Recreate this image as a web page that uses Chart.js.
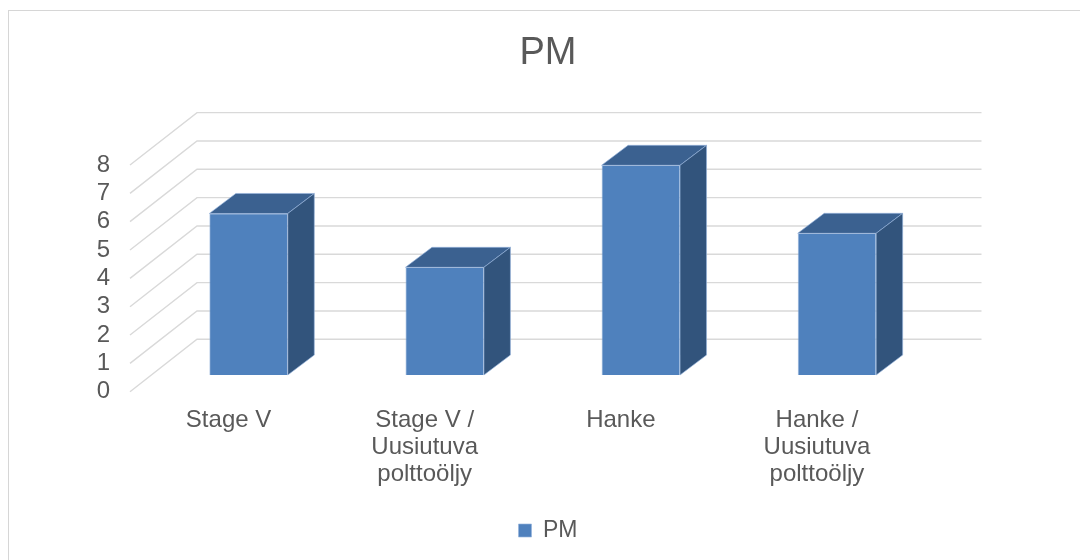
<!DOCTYPE html>
<html>
<head>
<meta charset="utf-8">
<script src="https://cdn.jsdelivr.net/npm/chart.js@4.4.1/dist/chart.umd.min.js"></script>
<style>
  html, body { margin: 0; padding: 0; background: #ffffff; }
  #wrap { position: relative; width: 1080px; height: 560px; overflow: hidden; }
  #wrap canvas { position: absolute; left: 0; top: 0; }
  #frame { position: absolute; left: 8px; top: 10px; width: 1200px; height: 700px;
           border-top: 1px solid #d6d6d6; border-left: 1px solid #d6d6d6; pointer-events: none; }
</style>
</head>
<body>
<div id="wrap">
  <canvas id="chart" width="1080" height="560"></canvas>
  <div id="frame"></div>
</div>
<script>
// Data
const chartTitle = "PM";
const seriesName = "PM";
const categories = [
  "Stage V",
  ["Stage V /", "Uusiutuva", "polttoöljy"],
  "Hanke",
  ["Hanke /", "Uusiutuva", "polttoöljy"]
];
const pmValues = [5.7, 3.8, 7.4, 5.0];
const yTickValues = [0, 1, 2, 3, 4, 5, 6, 7, 8];

// Styling
const FONT = "'Liberation Sans', Arial, sans-serif";
const TEXT = "#595959";
const GRID = "#d9d9d9";
const FRONT = "#4f81bd";
const TOP = "#3b6190";
const SIDE = "#32547c";

// Oblique projection offsets (relative to the bar front plane)
const BAR_DEPTH = { dx: 26.5, dy: -20 };
const WALL = { dx: 46.5, dy: -35.7 };
const EDGE = { dx: -20.5, dy: 16.7 };

const walls3d = {
  id: "walls3d",
  beforeDatasetsDraw(chart) {
    const { ctx, chartArea } = chart;
    const y = chart.scales.y;
    ctx.save();
    ctx.strokeStyle = GRID;
    ctx.lineWidth = 1.4;
    y.ticks.forEach(t => {
      const py = y.getPixelForValue(t.value);
      ctx.beginPath();
      ctx.moveTo(chartArea.left + EDGE.dx, py + EDGE.dy);
      ctx.lineTo(chartArea.left + WALL.dx, py + WALL.dy);
      ctx.lineTo(chartArea.right + WALL.dx, py + WALL.dy);
      ctx.stroke();
    });
    ctx.restore();
  }
};

const bars3d = {
  id: "bars3d",
  afterDatasetsDraw(chart) {
    const { ctx } = chart;
    const meta = chart.getDatasetMeta(0);
    ctx.save();
    ctx.lineWidth = 0.8;
    ctx.strokeStyle = "rgba(150,180,220,0.8)";
    meta.data.forEach(bar => {
      const p = bar.getProps(["x", "y", "base", "width"], true);
      const l = p.x - p.width / 2, r = p.x + p.width / 2;
      const { dx, dy } = BAR_DEPTH;
      // top face
      ctx.beginPath();
      ctx.moveTo(l, p.y);
      ctx.lineTo(r, p.y);
      ctx.lineTo(r + dx, p.y + dy);
      ctx.lineTo(l + dx, p.y + dy);
      ctx.closePath();
      ctx.fillStyle = TOP;
      ctx.fill();
      ctx.stroke();
      // side face
      ctx.beginPath();
      ctx.moveTo(r, p.y);
      ctx.lineTo(r + dx, p.y + dy);
      ctx.lineTo(r + dx, p.base + dy);
      ctx.lineTo(r, p.base);
      ctx.closePath();
      ctx.fillStyle = SIDE;
      ctx.fill();
      ctx.stroke();
    });
    ctx.restore();
  }
};

new Chart(document.getElementById("chart"), {
  type: "bar",
  data: {
    labels: categories,
    datasets: [{
      label: seriesName,
      data: pmValues,
      backgroundColor: FRONT,
      borderColor: "rgba(150,180,220,0.8)",
      borderWidth: 0.8,
      barPercentage: 0.4,
      categoryPercentage: 1.0
    }]
  },
  options: {
    responsive: false,
    devicePixelRatio: 1,
    animation: false,
    layout: { padding: { left: 16, right: 0, top: 0, bottom: 8 } },
    plugins: {
      title: {
        display: true,
        text: chartTitle,
        color: TEXT,
        font: { family: FONT, size: 38, weight: "normal", lineHeight: 1.2 },
        padding: { top: 31, bottom: 71.7 }
      },
      legend: {
        display: true,
        position: "bottom",
        labels: {
          color: TEXT,
          font: { family: FONT, size: 23 },
          boxWidth: 13,
          boxHeight: 13,
          padding: 24
        }
      },
      tooltip: { enabled: false }
    },
    scales: {
      x: {
        grid: { display: false },
        border: { display: false },
        ticks: {
          color: TEXT,
          font: { family: FONT, size: 24, lineHeight: "27px" },
          padding: 23.5,
          labelOffset: -20,
          maxRotation: 0,
          autoSkip: false
        },
        afterFit(s) { s.height = 120; }
      },
      y: {
        min: 0,
        max: 8,
        grid: { display: false, drawTicks: false },
        border: { display: false },
        ticks: {
          color: TEXT,
          font: { family: FONT, size: 24 },
          padding: 40.5,
          labelOffset: 16.7,
          autoSkip: false,
          stepSize: 1
        },
        afterBuildTicks(s) { s.ticks = yTickValues.map(v => ({ value: v })); },
        afterFit(s) { s.width = 134.5; }
      },
      yRight: {
        type: "linear",
        position: "right",
        display: true,
        grid: { display: false },
        border: { display: false },
        ticks: { display: false },
        afterFit(s) { s.width = 145; }
      }
    }
  },
  plugins: [walls3d, bars3d]
});
</script>
</body>
</html>
